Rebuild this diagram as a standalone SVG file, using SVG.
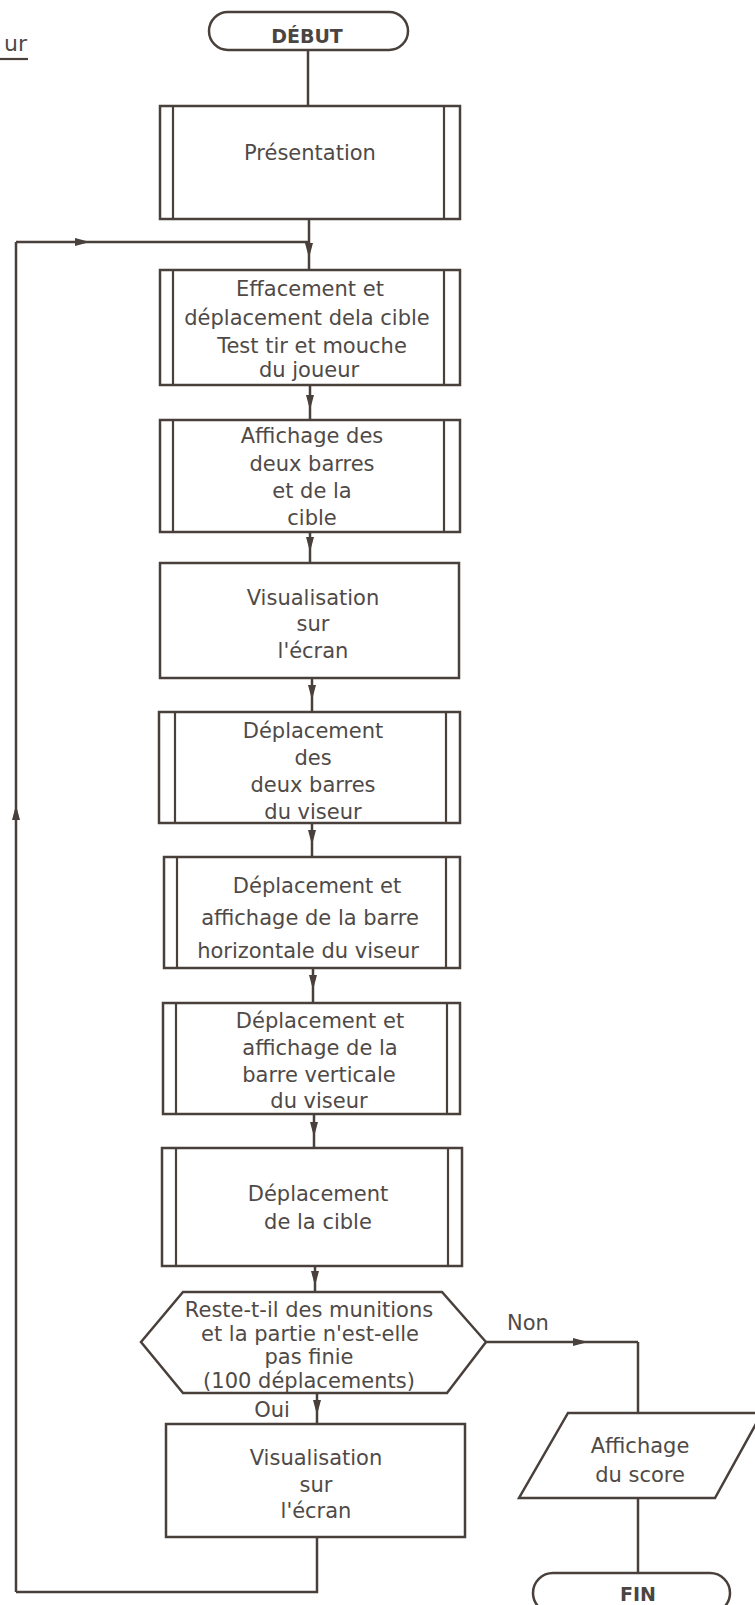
<svg xmlns="http://www.w3.org/2000/svg" width="755" height="1605" viewBox="0 0 755 1605">
  <style>
    .shape { fill: #ffffff; stroke: #4a403b; stroke-width: 2.5; }
    .bar { stroke: #4a403b; stroke-width: 2.2; }
    .wire { fill: none; stroke: #4a403b; stroke-width: 2.5; }
    .arr { fill: none; stroke: #4a403b; stroke-width: 2.5; marker-mid: url(#ah); }
    .t { font-family: "DejaVu Sans", "Liberation Sans", sans-serif; font-size: 21px; fill: #4f4a47; text-anchor: middle; }
    .tb { font-family: "DejaVu Sans", "Liberation Sans", sans-serif; font-size: 19px; font-weight: bold; fill: #4a4542; text-anchor: middle; }
  </style>
  <defs>
    <marker id="ah" viewBox="0 0 15 9" refX="15" refY="4.5" markerWidth="15" markerHeight="9" markerUnits="userSpaceOnUse" orient="auto">
      <path d="M0,0.5 L15,4.5 L0,8.5 Z" fill="#4a403b"/>
    </marker>
  </defs>
  <rect width="755" height="1605" fill="#ffffff"/>

  <!-- title fragment at the top-left corner -->
  <g id="title">
    <text x="27" y="51" class="t" style="text-anchor:end;font-size:22px">ur</text>
    <line x1="0" y1="59" x2="28" y2="59" class="bar"/>
  </g>

  <!-- connectors -->
  <g id="connectors">
    <path class="wire" d="M308,50 V106"/>
    <path class="arr" d="M309,219 V258 V270"/>
    <path class="arr" d="M310,385 V410 V420"/>
    <path class="arr" d="M310,532 V552 V563"/>
    <path class="arr" d="M312,678 V700 V712"/>
    <path class="arr" d="M312,823 V845 V857"/>
    <path class="arr" d="M313,968 V990 V1003"/>
    <path class="arr" d="M314,1114 V1137 V1148"/>
    <path class="arr" d="M315,1266 V1286 V1292"/>
    <path class="arr" d="M317,1393 V1415 V1424"/>
    <!-- return loop -->
    <path class="wire" d="M317,1537 V1592 H16"/>
    <path class="arr" d="M16,1592 V805 V242"/>
    <path class="arr" d="M16,242 H90 H309"/>
    <!-- exit branch -->
    <path class="arr" d="M486,1342 H588 H638"/>
    <path class="wire" d="M638,1342 V1413"/>
    <path class="wire" d="M638,1498 V1573"/>
    <text x="528" y="1330" class="t">Non</text>
    <text x="272" y="1417" class="t">Oui</text>
  </g>

  <g id="debut">
    <rect x="209" y="12" width="199" height="38" rx="19" class="shape"/>
    <text x="307" y="43" class="tb">DÉBUT</text>
  </g>

  <g id="presentation">
    <rect x="160" y="106" width="300" height="113" class="shape"/>
    <line x1="173" y1="106" x2="173" y2="219" class="bar"/>
    <line x1="444" y1="106" x2="444" y2="219" class="bar"/>
    <text x="310" y="160" class="t">Présentation</text>
  </g>

  <g id="effacement">
    <rect x="160" y="270" width="300" height="115" class="shape"/>
    <line x1="173" y1="270" x2="173" y2="385" class="bar"/>
    <line x1="444" y1="270" x2="444" y2="385" class="bar"/>
    <text x="310" y="296" class="t">Effacement et</text>
    <text x="307" y="325" class="t">déplacement dela cible</text>
    <text x="312" y="353" class="t">Test tir et mouche</text>
    <text x="309" y="377" class="t">du joueur</text>
  </g>

  <g id="affichage-barres">
    <rect x="160" y="420" width="300" height="112" class="shape"/>
    <line x1="173" y1="420" x2="173" y2="532" class="bar"/>
    <line x1="444" y1="420" x2="444" y2="532" class="bar"/>
    <text x="312" y="443" class="t">Affichage des</text>
    <text x="312" y="471" class="t">deux barres</text>
    <text x="312" y="498" class="t">et de la</text>
    <text x="312" y="525" class="t">cible</text>
  </g>

  <g id="visualisation-1">
    <rect x="160" y="563" width="299" height="115" class="shape"/>
    <text x="313" y="605" class="t">Visualisation</text>
    <text x="313" y="631" class="t">sur</text>
    <text x="313" y="658" class="t">l'écran</text>
  </g>

  <g id="deplacement-barres">
    <rect x="159" y="712" width="301" height="111" class="shape"/>
    <line x1="175" y1="712" x2="175" y2="823" class="bar"/>
    <line x1="446" y1="712" x2="446" y2="823" class="bar"/>
    <text x="313" y="738" class="t">Déplacement</text>
    <text x="313" y="765" class="t">des</text>
    <text x="313" y="792" class="t">deux barres</text>
    <text x="313" y="819" class="t">du viseur</text>
  </g>

  <g id="barre-horizontale">
    <rect x="164" y="857" width="296" height="111" class="shape"/>
    <line x1="177" y1="857" x2="177" y2="968" class="bar"/>
    <line x1="446" y1="857" x2="446" y2="968" class="bar"/>
    <text x="317" y="893" class="t">Déplacement et</text>
    <text x="310" y="925" class="t">affichage de la barre</text>
    <text x="308" y="958" class="t">horizontale du viseur</text>
  </g>

  <g id="barre-verticale">
    <rect x="163" y="1003" width="297" height="111" class="shape"/>
    <line x1="176" y1="1003" x2="176" y2="1114" class="bar"/>
    <line x1="447" y1="1003" x2="447" y2="1114" class="bar"/>
    <text x="320" y="1028" class="t">Déplacement et</text>
    <text x="320" y="1055" class="t">affichage de la</text>
    <text x="319" y="1082" class="t">barre verticale</text>
    <text x="319" y="1108" class="t">du viseur</text>
  </g>

  <g id="deplacement-cible">
    <rect x="162" y="1148" width="300" height="118" class="shape"/>
    <line x1="176" y1="1148" x2="176" y2="1266" class="bar"/>
    <line x1="448" y1="1148" x2="448" y2="1266" class="bar"/>
    <text x="318" y="1201" class="t">Déplacement</text>
    <text x="318" y="1229" class="t">de la cible</text>
  </g>

  <g id="test-munitions">
    <polygon points="141,1342 183,1292 442,1292 486,1342 447,1393 183,1393" class="shape"/>
    <text x="309" y="1317" class="t">Reste-t-il des munitions</text>
    <text x="310" y="1341" class="t">et la partie n'est-elle</text>
    <text x="309" y="1364" class="t">pas finie</text>
    <text x="309" y="1388" class="t">(100 déplacements)</text>
  </g>

  <g id="visualisation-2">
    <rect x="166" y="1424" width="299" height="113" class="shape"/>
    <text x="316" y="1465" class="t">Visualisation</text>
    <text x="316" y="1492" class="t">sur</text>
    <text x="316" y="1518" class="t">l'écran</text>
  </g>

  <g id="affichage-score">
    <polygon points="568,1413 762,1413 715,1498 519,1498" class="shape"/>
    <text x="640" y="1453" class="t">Affichage</text>
    <text x="640" y="1482" class="t">du score</text>
  </g>

  <g id="fin">
    <rect x="533" y="1573" width="197" height="40" rx="20" class="shape"/>
    <text x="638" y="1601" class="tb">FIN</text>
  </g>
</svg>
